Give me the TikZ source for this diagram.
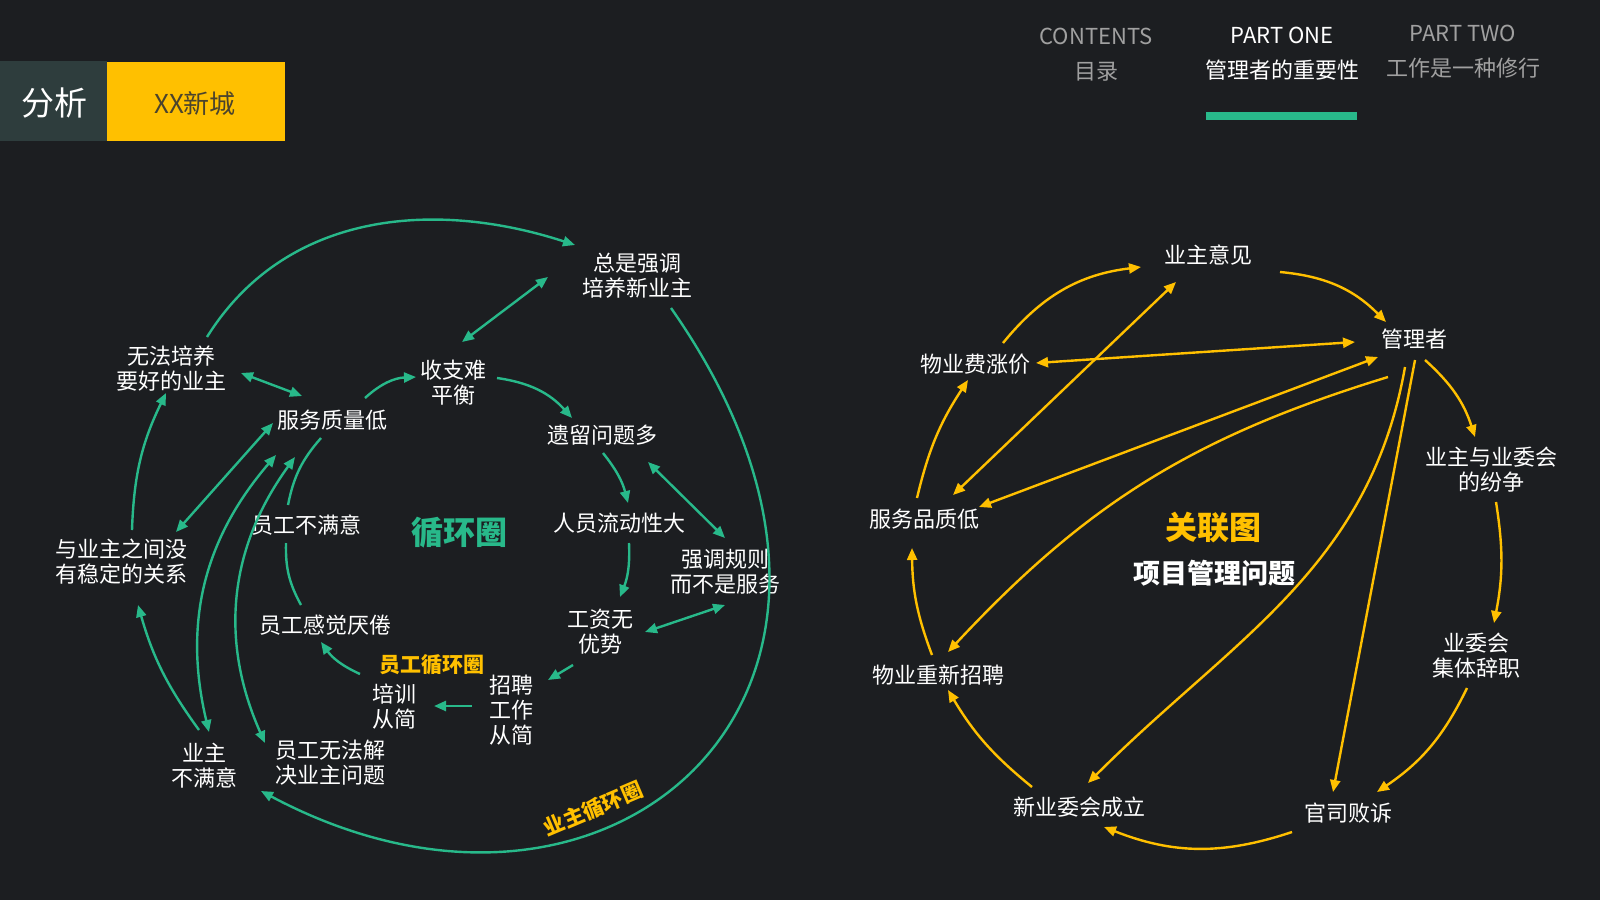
\documentclass[tikz,border=0pt]{standalone}
\usepackage{fontspec}
\setmainfont{Noto Sans CJK SC}
\usetikzlibrary{positioning, arrows.meta, calc}

\definecolor{cbg}{RGB}{28,30,33}
\definecolor{cbox}{RGB}{46,61,61}
\definecolor{cyellow}{RGB}{255,192,0}
\definecolor{cgreen}{RGB}{40,185,138}
\definecolor{cgray}{RGB}{160,160,160}
\definecolor{cdark}{RGB}{75,68,45}

\tikzset{
  lbl/.style={text=white, align=center, inner sep=2pt, font=\fontsize{11}{12.5}\selectfont},
  hd/.style={text=cgray, font=\fontsize{11}{13}\selectfont},
  garr/.style={draw=cgreen, line width=1.2pt},
  yarr/.style={draw=cyellow, line width=1.2pt}
}

\begin{document}
\begin{tikzpicture}[x=0.5pt, y=-0.5pt, >={Triangle[length=6pt,width=5pt]}]
  \useasboundingbox (0,0) rectangle (1600,900);
  \fill[cbg] (0,0) rectangle (1600,900);

  % header
  \fill[cbox] (0,61) rectangle (107,141);
  \fill[cyellow] (107,62) rectangle (285,141);
  \node[text=white, font=\fontsize{16.5}{18}\selectfont] (fx) at (54,103) {分析};
  \node[text=cdark, font=\fontsize{13}{15}\selectfont] (xc) at (195,104) {XX新城};
  \node[hd] (cont) at (1096,36) {CONTENTS};
  \node[hd] (ml) at (1096,72) {目录};
  \node[hd, text=white] (p1) at (1282,35) {PART ONE};
  \node[hd, text=white] (p1t) at (1282,70) {管理者的重要性};
  \node[hd] (p2) at (1463,33) {PART TWO};
  \node[hd] (p2t) at (1463,68) {工作是一种修行};
  \fill[cgreen] (1206,112) rectangle (1357,120);

  % left: 循环圈
  \node[lbl] (zqpy) at (637,276) {总是强调\\培养新业主};
  \node[lbl] (wfpy) at (171,369) {无法培养\\要好的业主};
  \node[lbl] (szph) at (453,383) {收支难\\平衡};
  \node[lbl] (fwzl) at (332,420) {服务质量低};
  \node[lbl] (ylwt) at (602,435) {遗留问题多};
  \node[lbl] (ygbmy) at (306,525) {员工不满意};
  \node[lbl] (rylb) at (619,523) {人员流动性大};
  \node[lbl] (yzgx) at (121,562) {与业主之间没\\有稳定的关系};
  \node[lbl] (qdgz) at (725,572) {强调规则\\而不是服务};
  \node[lbl] (ygyj) at (325,625) {员工感觉厌倦};
  \node[lbl] (gzys) at (600,632) {工资无\\优势};
  \node[lbl] (pxcj) at (394,707) {培训\\从简};
  \node[lbl] (zpcj) at (511,710) {招聘\\工作\\从简};
  \node[lbl] (yzbmy) at (204,766) {业主\\不满意};
  \node[lbl] (ygwf) at (330,763) {员工无法解\\决业主问题};
  \node[text=cgreen, font=\bfseries\fontsize{16}{18}\selectfont] (xhq) at (459,533) {循环圈};
  \node[text=cyellow, font=\bfseries\fontsize{10.5}{12}\selectfont] (ygxhq) at (432,665) {员工循环圈};
  \node[text=cyellow, font=\bfseries\fontsize{10.5}{12}\selectfont, rotate=23] (yzxhq) at (593,809) {业主循环圈};

  \draw[garr,->] ($(wfpy)+(36,-32)$) to[out=58,in=162] ($(zqpy)+(-62,-31)$);
  \draw[garr,<->] ($(zqpy)+(-89,1)$) -- ($(szph)+(9,-41)$);
  \draw[garr,<->] ($(wfpy)+(70,4)$) -- ($(fwzl)+(-30,-24)$);
  \draw[garr,->] ($(fwzl)+(33,-22)$) to[bend left=20] ($(szph)+(-37,-6)$);
  \draw[garr,->] ($(szph)+(44,-5)$) to[bend left=20] ($(ylwt)+(-30,-17)$);
  \draw[garr,->] ($(ylwt)+(1,18)$) to[bend left=12] ($(rylb)+(9,-20)$);
  \draw[garr,->] ($(rylb)+(10,20)$) to[bend left=12] ($(gzys)+(20,-35)$);
  \draw[garr,<->] ($(ylwt)+(46,27)$) -- ($(qdgz)+(0,-34)$);
  \draw[garr,<->] ($(qdgz)+(0,33)$) -- ($(gzys)+(45,0)$);
  \draw[garr,->] ($(gzys)+(-27,33)$) -- ($(zpcj)+(37,-30)$);
  \draw[garr,->] ($(zpcj)+(-39,-4)$) -- ($(pxcj)+(40,-1)$);
  \draw[garr,->] ($(pxcj)+(-34,-33)$) to[bend left=15] ($(ygyj)+(-4,17)$);
  \draw[garr] ($(ygyj)+(-24,-20)$) to[bend left=15] ($(ygbmy)+(-20,18)$);
  \draw[garr] ($(ygbmy)+(-18,-20)$) to[bend left=15] ($(fwzl)+(-11,18)$);
  \draw[garr,<->] ($(fwzl)+(-59,3)$) -- ($(yzgx)+(55,-30)$);
  \draw[garr,->] ($(yzgx)+(11,-32)$) to[bend left=12] ($(wfpy)+(-5,24)$);
  \draw[garr,->] ($(yzbmy)+(-5,-36)$) to[bend left=10] ($(yzgx)+(17,43)$);
  \draw[garr,<->] ($(fwzl)+(-56,35)$) to[bend right=27] ($(yzbmy)+(5,-34)$);
  \draw[garr,<->] ($(fwzl)+(-37,37)$) to[bend right=30] ($(ygwf)+(-65,-20)$);
  \draw[garr,->] ($(zqpy)+(34,32)$) .. controls +(267,381) and +(353,188) .. ($(yzbmy)+(57,25)$);

  % right: 关联图
  \node[lbl] (yzyj) at (1208,255) {业主意见};
  \node[lbl] (glz) at (1414,339) {管理者};
  \node[lbl] (wyfzj) at (975,364) {物业费涨价};
  \node[lbl] (yzjf) at (1491,470) {业主与业委会\\的纷争};
  \node[lbl] (fwpz) at (924,519) {服务品质低};
  \node[lbl] (ywcz) at (1476,656) {业委会\\集体辞职};
  \node[lbl] (wyzp) at (938,675) {物业重新招聘};
  \node[lbl] (xywh) at (1079,807) {新业委会成立};
  \node[lbl] (gsbs) at (1348,813) {官司败诉};
  \node[text=cyellow, font=\bfseries\fontsize{16}{18}\selectfont] (glt) at (1213,528) {关联图};
  \node[text=white, font=\bfseries\fontsize{13.5}{15}\selectfont] (xmwt) at (1214,573) {项目管理问题};

  \draw[yarr,->] ($(wyfzj)+(28,-21)$) to[bend left=22] ($(yzyj)+(-67,12)$);
  \draw[yarr,->] ($(yzyj)+(72,17)$) to[bend left=20] ($(glz)+(-28,-17)$);
  \draw[yarr,<->] ($(wyfzj)+(61,-1)$) -- ($(glz)+(-59,3)$);
  \draw[yarr,<->] ($(fwpz)+(29,-24)$) -- ($(yzyj)+(-32,27)$);
  \draw[yarr,<->] ($(fwpz)+(55,-12)$) -- ($(glz)+(-36,18)$);
  \draw[yarr,->] ($(glz)+(-26,38)$) to[bend right=15] ($(wyzp)+(10,-23)$);
  \draw[yarr,->] ($(glz)+(-9,28)$) to[out=-100,in=45] ($(xywh)+(9,-24)$);
  \draw[yarr,->] ($(glz)+(1,21)$) -- ($(gsbs)+(-15,-21)$);
  \draw[yarr,->] ($(glz)+(11,21)$) to[bend left=15] ($(yzjf)+(-16,-33)$);
  \draw[yarr,->] ($(yzjf)+(5,32)$) to[bend left=10] ($(ywcz)+(18,-33)$);
  \draw[yarr,->] ($(ywcz)+(-9,32)$) to[bend left=15] ($(gsbs)+(29,-21)$);
  \draw[yarr,->] ($(gsbs)+(-56,19)$) to[bend left=20] ($(xywh)+(25,20)$);
  \draw[yarr,->] ($(xywh)+(-47,-20)$) to[bend left=10] ($(wyzp)+(10,15)$);
  \draw[yarr,->] ($(wyzp)+(-6,-20)$) to[bend left=10] ($(fwpz)+(-12,29)$);
  \draw[yarr,->] ($(fwpz)+(-7,-21)$) to[bend left=10] ($(wyfzj)+(-7,16)$);
\end{tikzpicture}
\end{document}
